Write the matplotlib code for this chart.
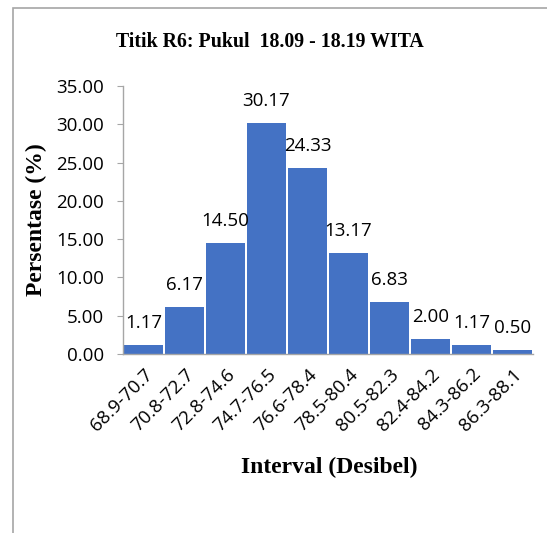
import matplotlib
matplotlib.use("Agg")
import matplotlib.pyplot as plt
from matplotlib.patches import Rectangle

categories = ["68.9-70.7", "70.8-72.7", "72.8-74.6", "74.7-76.5", "76.6-78.4",
              "78.5-80.4", "80.5-82.3", "82.4-84.2", "84.3-86.2", "86.3-88.1"]
values = [1.17, 6.17, 14.50, 30.17, 24.33, 13.17, 6.83, 2.00, 1.17, 0.50]
yticks = [0, 5, 10, 15, 20, 25, 30, 35]

W, H = 547, 533
fig = plt.figure(figsize=(W / 100, H / 100), dpi=100)
ax = fig.add_axes([123 / W, 1 - 354 / H, (533 - 123) / W, (354 - 86) / H])

x = list(range(len(categories)))
ax.bar(x, values, width=0.95, color="#4472C4", edgecolor="none", zorder=2)
ax.set_xlim(-0.5, len(categories) - 0.5)
ax.set_ylim(0, 35)

tick_font = "Open Sans"
fs = 13.5
for xi, v in zip(x, values):
    ax.text(xi, v + 1.7, f"{v:.2f}", ha="center", va="bottom",
            fontsize=fs, family=tick_font, color="#000000")

ax.set_yticks(yticks)
ax.set_yticklabels([f"{t:.2f}" for t in yticks], fontsize=fs, family=tick_font)
ax.set_xticks(x)
ax.set_xticklabels(categories, rotation=45, ha="right", rotation_mode="anchor",
                   fontsize=fs, family=tick_font)
ax.tick_params(axis="x", length=0, pad=8)
ax.tick_params(axis="y", length=4.5, color="#A6A6A6", pad=9)
for s in ["top", "right"]:
    ax.spines[s].set_visible(False)
for s in ["left", "bottom"]:
    ax.spines[s].set_color("#A6A6A6")
    ax.spines[s].set_linewidth(1.0)

fig.text(270 / W, 1 - 42 / H, "Titik R6: Pukul  18.09 - 18.19 WITA", ha="center", va="center",
         fontsize=14.3, fontweight="bold", family="Liberation Serif")
fig.text(36 / W, 1 - 220 / H, "Persentase (%)", ha="center", va="center", rotation=90,
         fontsize=17, fontweight="bold", family="Liberation Serif")
fig.text(329 / W, 1 - 467 / H, "Interval (Desibel)", ha="center", va="center",
         fontsize=17, fontweight="bold", family="Liberation Serif")

fig.add_artist(Rectangle((13 / W, -0.1), 1.1, 1.1 - 8 / H, transform=fig.transFigure,
                         fill=False, edgecolor="#A6A6A6", linewidth=1.2))

fig.savefig("out.png", dpi=100)
